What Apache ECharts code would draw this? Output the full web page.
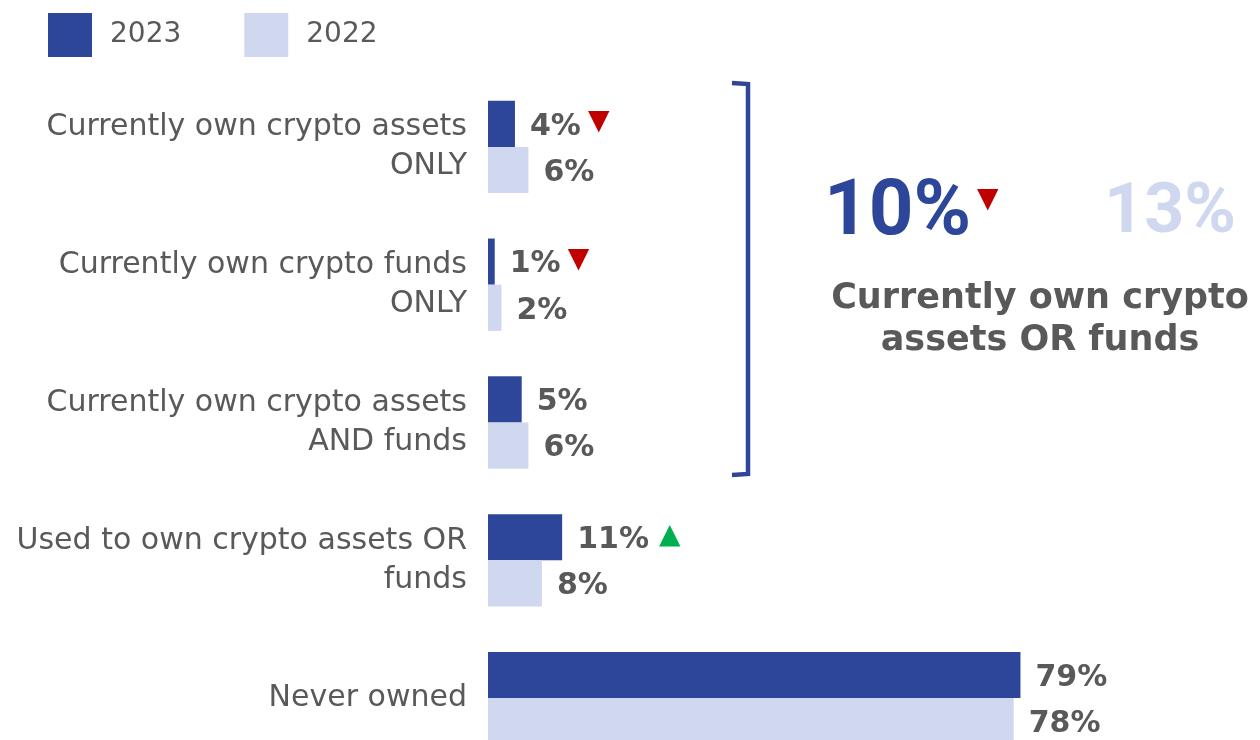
<!DOCTYPE html>
<html>
<head>
<meta charset="utf-8">
<script src="https://cdn.jsdelivr.net/npm/echarts@6/dist/echarts.min.js"></script>
<style>
  html, body { margin: 0; padding: 0; background: #fff; }
  #chart { width: 1260px; height: 740px; }
</style>
</head>
<body>
<div id="chart"></div>
<script>
// 数据
const categories = [
  'Currently own crypto assets\nONLY',
  'Currently own crypto funds\nONLY',
  'Currently own crypto assets\nAND funds',
  'Used to own crypto assets OR\nfunds',
  'Never owned'
];
const years = ['2023', '2022'];
const values2023 = [4, 1, 5, 11, 79];
const values2022 = [6, 2, 6, 8, 78];
// 变化标记: down / up / ''
const change2023 = ['down', 'down', '', 'up', ''];
const total2023 = 10;
const total2022 = 13;
const totalChange = 'down';
const totalTitle = 'Currently own crypto\nassets OR funds';

const darkBlue = '#2E4699';
const lightBlue = '#D0D8F0';
const gray = '#595959';
const arrowChar = { down: '▼', up: '▲' };

function valueLabel (changes) {
  return {
    show: true,
    position: 'right',
    distance: 15,
    offset: [0, 3],
    formatter: function (p) {
      let s = '{v|' + p.value + '%}';
      const c = changes ? changes[p.dataIndex] : '';
      if (c) s += '{' + c + '|' + arrowChar[c] + '}';
      return s;
    },
    rich: {
      v: { fontFamily: 'DejaVu Sans', fontWeight: 'bold', fontSize: 30, color: gray },
      down: { fontFamily: 'DejaVu Sans', fontSize: 28, color: '#C00000', padding: [0, 0, 10, 7] },
      up: { fontFamily: 'DejaVu Sans', fontSize: 28, color: '#00B050', padding: [0, 0, 8, 10] }
    }
  };
}

const chart = echarts.init(document.getElementById('chart'));
const option = {
  animation: false,
  legend: {
    data: years,
    left: 43,
    top: 8,
    icon: 'rect',
    itemWidth: 44,
    itemHeight: 44,
    itemGap: 63,
    textStyle: { fontFamily: 'DejaVu Sans', fontSize: 28, color: gray, padding: [10, 0, 0, 13] }
  },
  grid: { left: 488, top: 78, width: 674, height: 689, outerBoundsMode: 'none' },
  xAxis: { type: 'value', min: 0, max: 100, show: false },
  yAxis: {
    type: 'category',
    inverse: true,
    data: categories,
    axisLine: { show: false },
    axisTick: { show: false },
    axisLabel: {
      margin: 21,
      align: 'right',
      fontFamily: 'DejaVu Sans',
      fontSize: 30,
      lineHeight: 39,
      color: gray
    }
  },
  series: [
    {
      name: years[0],
      type: 'bar',
      data: values2023,
      itemStyle: { color: darkBlue },
      barGap: '0%',
      barCategoryGap: '33%',
      label: valueLabel(change2023)
    },
    {
      name: years[1],
      type: 'bar',
      data: values2022,
      itemStyle: { color: lightBlue },
      barGap: '0%',
      barCategoryGap: '33%',
      label: valueLabel(null)
    }
  ],
  graphic: [
    {
      type: 'polyline',
      shape: { points: [[732, 83], [748, 84], [748, 474], [732, 475]] },
      style: { stroke: darkBlue, lineWidth: 4.5, fill: null }
    },
    {
      type: 'text', x: 824, y: 214,
      style: { text: total2023 + '%', fontFamily: 'Roboto', fontWeight: 'bold', fontSize: 78, fill: darkBlue, verticalAlign: 'middle' }
    },
    {
      type: 'text', x: 977, y: 200,
      style: { text: arrowChar[totalChange], fontFamily: 'DejaVu Sans', fontSize: 28, fill: '#C00000', verticalAlign: 'middle' }
    },
    {
      type: 'text', x: 1104, y: 214,
      style: { text: total2022 + '%', fontFamily: 'Roboto', fontWeight: 'bold', fontSize: 70, fill: lightBlue, verticalAlign: 'middle' }
    },
    {
      type: 'text', x: 1040, y: 320,
      style: { text: totalTitle, fontFamily: 'DejaVu Sans', fontWeight: 'bold', fontSize: 35, lineHeight: 42, fill: gray, align: 'center', verticalAlign: 'middle' }
    }
  ]
};
chart.setOption(option);
</script>
</body>
</html>
